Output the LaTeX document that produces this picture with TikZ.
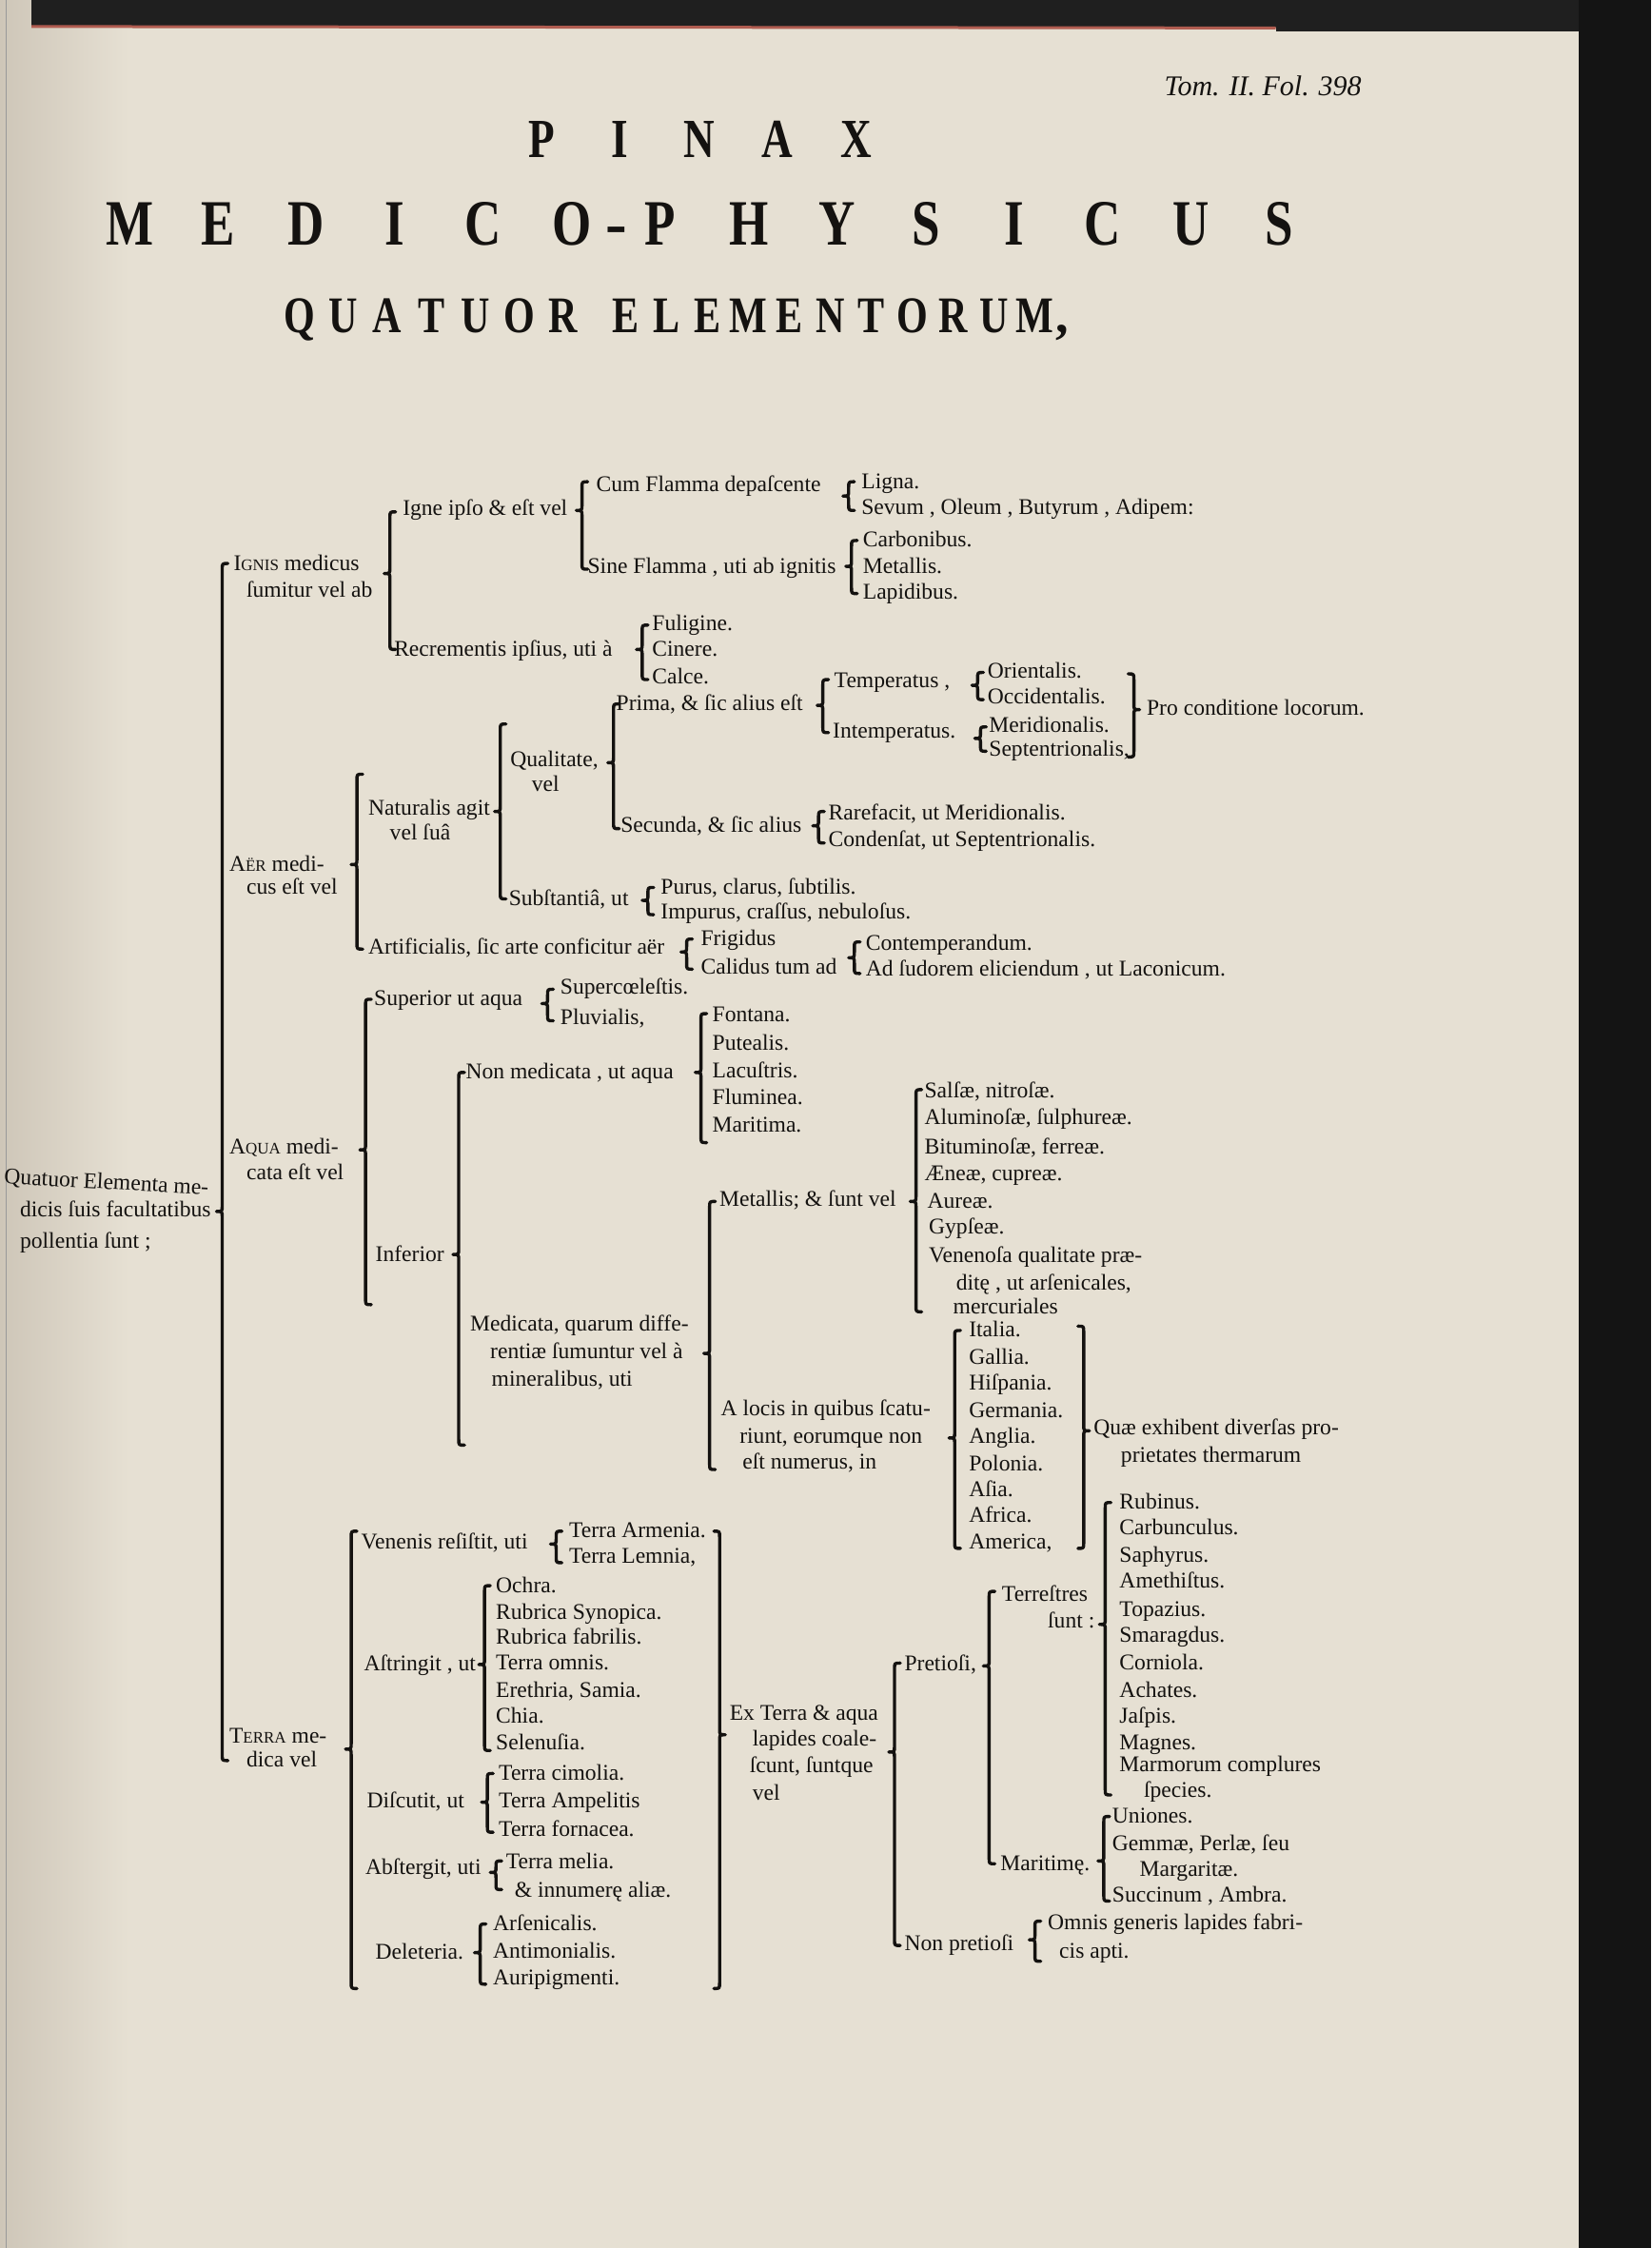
\documentclass[tikz,border=0pt]{standalone}
\usepackage{fontspec}
\setmainfont{Liberation Serif}
\definecolor{paper}{RGB}{230,224,211}
\definecolor{paperdark}{RGB}{206,198,184}
\definecolor{ink}{RGB}{20,18,16}
\definecolor{edgered}{RGB}{176,92,80}
\newcommand\mysc{\fontsize{8.5}{10}\selectfont}
\newcommand\tx[4]{\node[tx] (#1) at (#2,#3) {#4};}
\newcommand\lbrc[4]{\draw[br] ({#1+4},#2) .. controls (#1,#2) .. (#1,{#2+4}) -- (#1,{#3-4}) .. controls (#1,#3) .. ({#1-4},#3) .. controls (#1,#3) .. (#1,{#3+4}) -- (#1,{#4-4}) .. controls (#1,#4) .. ({#1+4},#4);}
\newcommand\rbrc[4]{\draw[br] ({#1-4},#2) .. controls (#1,#2) .. (#1,{#2+4}) -- (#1,{#3-4}) .. controls (#1,#3) .. ({#1+4},#3) .. controls (#1,#3) .. (#1,{#3+4}) -- (#1,{#4-4}) .. controls (#1,#4) .. ({#1-4},#4);}
\newcommand\ttl[2]{\makebox[#1]{\scalebox{0.78}[1]{#2}}}
\begin{document}
\begin{tikzpicture}[x=0.7535pt,y=-0.7535pt,
  tx/.style={anchor=west,inner sep=0pt,outer sep=0pt,text height=8.5pt,text depth=3pt,font=\fontsize{11.8}{14}\selectfont,text=ink},
  ttx/.style={anchor=base,inner sep=0pt,outer sep=0pt,text=ink},
  br/.style={draw=ink,line width=1.7pt,line cap=round,line join=round}]
\useasboundingbox (0,0) rectangle (1152,1568);
% page
\fill[paper] (0,0) rectangle (1152,1568);
\shade[left color=paperdark,right color=paper] (0,0) rectangle (90,1568);
\fill[black!88] (22,0) rectangle (1152,19);
\fill[black!88] (890,0) rectangle (1152,22);
\draw[edgered,line width=1.5pt] (22,18.5) -- (890,19.5);
\fill[black!92] (1101,0) rectangle (1152,1568);
\draw[black!40,line width=0.5pt] (4,0) -- (4,1568);
% header
\node[anchor=west,inner sep=0pt,text=ink,font=\fontsize{15}{15}\selectfont\itshape] (folio) at (812,60) {Tom. II. Fol. 398};
\node[ttx,font=\bfseries\fontsize{29}{29}\selectfont] (pinax) at (487.5,110) {\ttl{41.4pt}{P}\ttl{41.4pt}{I}\ttl{41.4pt}{N}\ttl{41.4pt}{A}\ttl{41.4pt}{X}};
\node[ttx,font=\bfseries\fontsize{34}{34}\selectfont] (medico) at (491.5,171) {\ttl{46.5pt}{M}\ttl{46.5pt}{E}\ttl{46.5pt}{D}\ttl{46.5pt}{I}\ttl{46.5pt}{C}\ttl{46.5pt}{O}\makebox[0pt]{-}\ttl{46.5pt}{P}\ttl{46.5pt}{H}\ttl{46.5pt}{Y}\ttl{46.5pt}{S}\ttl{46.5pt}{I}\ttl{46.5pt}{C}\ttl{46.5pt}{U}\ttl{46.5pt}{S}};
\node[ttx,anchor=base west,font=\bfseries\fontsize{27}{27}\selectfont] (quatuor) at (193.6,232) {\ttl{23.1pt}{Q}\ttl{23.1pt}{U}\ttl{23.1pt}{A}\ttl{23.1pt}{T}\ttl{23.1pt}{U}\ttl{23.1pt}{O}\ttl{23.1pt}{R}\hspace{10.7pt}\ttl{21.5pt}{E}\ttl{21.5pt}{L}\ttl{21.5pt}{E}\ttl{21.5pt}{M}\ttl{21.5pt}{E}\ttl{21.5pt}{N}\ttl{21.5pt}{T}\ttl{21.5pt}{O}\ttl{21.5pt}{R}\ttl{21.5pt}{U}\ttl{21.5pt}{M}\makebox[0pt][l]{,}};
% ---------- root
\node[tx,rotate=-3] (r1) at (3,822) {Quatuor Elementa me-};
\tx{r2}{14}{845}{dicis ſuis facultatibus}
\tx{r3}{14}{867}{pollentia ſunt ;}
\lbrc{155}{393}{845}{1228}
% ---------- IGNIS
\tx{ig1}{163}{394}{I{\mysc GNIS} medicus}
\tx{ig2}{172}{413}{ſumitur vel ab}
\lbrc{272}{357}{400}{453}
\tx{igne}{281}{356}{Igne ipſo \& eſt vel}
\lbrc{406}{336}{356}{397}
\tx{cum}{416}{339}{Cum Flamma depaſcente}
\lbrc{592}{336}{346}{356}
\tx{ligna}{601}{337}{Ligna.}
\tx{sevum}{601}{355}{Sevum , Oleum , Butyrum , Adipem:}
\tx{sine}{410}{396}{Sine Flamma , uti ab ignitis}
\lbrc{594}{377}{395}{414}
\tx{carb}{602}{378}{Carbonibus.}
\tx{metal}{602}{396}{Metallis.}
\tx{lapid}{602}{414}{Lapidibus.}
\tx{recr}{275}{454}{Recrementis ipſius, uti à}
\lbrc{448}{436}{453}{474}
\tx{fulig}{455}{436}{Fuligine.}
\tx{ciner}{455}{454}{Cinere.}
\tx{calce}{455}{473}{Calce.}
% ---------- AER
\tx{ae1}{160}{604}{A{\mysc ËR} medi-}
\tx{ae2}{172}{620}{cus eſt vel}
\lbrc{249}{540}{603}{662}
\tx{nat1}{257}{565}{Naturalis agit}
\tx{nat2}{272}{582}{vel ſuâ}
\lbrc{349}{505}{566}{627}
\tx{qual1}{356}{531}{Qualitate,}
\tx{qual2}{371}{548}{vel}
\lbrc{428}{491}{532}{578}
\tx{prima}{430}{492}{Prima, \& ſic alius eſt}
\lbrc{574}{474}{492}{511}
\tx{temp}{582}{476}{Temperatus ,}
\lbrc{682}{469}{478}{488}
\tx{orie}{689}{469}{Orientalis.}
\tx{occi}{689}{487}{Occidentalis.}
\tx{intemp}{581}{511}{Intemperatus.}
\lbrc{684}{507}{515}{524}
\tx{meri}{690}{507}{Meridionalis.}
\tx{sept}{690}{524}{Septentrionalis,}
\rbrc{791}{470}{495}{528}
\tx{pro}{800}{495}{Pro conditione locorum.}
\tx{secu}{433}{577}{Secunda, \& ſic alius}
\lbrc{571}{566}{576}{588}
\tx{rare}{578}{568}{Rarefacit, ut Meridionalis.}
\tx{cond}{578}{587}{Condenſat, ut Septentrionalis.}
\tx{subst}{355}{628}{Subſtantiâ, ut}
\lbrc{452}{619}{628}{638}
\tx{purus}{461}{620}{Purus, clarus, ſubtilis.}
\tx{impur}{461}{637}{Impurus, craſſus, nebuloſus.}
\tx{artif}{257}{662}{Artificialis, ſic arte conficitur aër}
\lbrc{479}{655}{664}{676}
\tx{frig}{489}{656}{Frigidus}
\tx{calid}{489}{676}{Calidus tum ad}
\lbrc{596}{657}{668}{679}
\tx{contemp}{604}{659}{Contemperandum.}
\tx{sudor}{604}{677}{Ad ſudorem eliciendum , ut Laconicum.}
% ---------- AQUA
\tx{aq1}{160}{801}{A{\mysc QUA} medi-}
\tx{aq2}{172}{819}{cata eſt vel}
\lbrc{255}{697}{802}{910}
\tx{super}{261}{698}{Superior ut aqua}
\lbrc{382}{690}{700}{712}
\tx{supc}{391}{690}{Supercœleſtis.}
\tx{pluv}{391}{711}{Pluvialis,}
\tx{infer}{262}{876}{Inferior}
\lbrc{320}{748}{875}{1008}
\tx{nonmed}{325}{749}{Non medicata , ut aqua}
\lbrc{489}{707}{748}{797}
\tx{font}{497}{709}{Fontana.}
\tx{putea}{497}{729}{Putealis.}
\tx{lacus}{497}{748}{Lacuſtris.}
\tx{flum}{497}{767}{Fluminea.}
\tx{marit}{497}{786}{Maritima.}
\tx{med1}{328}{925}{Medicata, quarum diffe-}
\tx{med2}{342}{944}{rentiæ ſumuntur vel à}
\tx{med3}{343}{963}{mineralibus, uti}
\lbrc{495}{838}{944}{1025}
\tx{metsunt}{502}{838}{Metallis; \& ſunt vel}
\lbrc{639}{760}{838}{915}
\tx{salsae}{645}{762}{Salſæ, nitroſæ.}
\tx{alum}{645}{781}{Aluminoſæ, ſulphureæ.}
\tx{bitum}{645}{801}{Bituminoſæ, ferreæ.}
\tx{aene}{645}{820}{Æneæ, cupreæ.}
\tx{aure}{647}{839}{Aureæ.}
\tx{gyps}{648}{857}{Gypſeæ.}
\tx{ven1}{648}{877}{Venenoſa qualitate præ-}
\tx{ven2}{667}{896}{ditę , ut arſenicales,}
\tx{ven3}{665}{913}{mercuriales}
\tx{loc1}{503}{984}{A locis in quibus ſcatu-}
\tx{loc2}{516}{1003}{riunt, eorumque non}
\tx{loc3}{518}{1021}{eſt numerus, in}
\lbrc{666}{928}{1003}{1080}
\tx{ital}{676}{929}{Italia.}
\tx{gall}{676}{948}{Gallia.}
\tx{hisp}{676}{966}{Hiſpania.}
\tx{germ}{676}{985}{Germania.}
\tx{angl}{676}{1003}{Anglia.}
\tx{polo}{676}{1022}{Polonia.}
\tx{asia}{676}{1040}{Aſia.}
\tx{afri}{676}{1058}{Africa.}
\tx{amer}{676}{1077}{America,}
\rbrc{756}{925}{998}{1080}
\tx{quae1}{763}{997}{Quæ exhibent diverſas pro-}
\tx{quae2}{782}{1016}{prietates thermarum}
% ---------- TERRA
\tx{te1}{160}{1212}{T{\mysc ERRA} me-}
\tx{te2}{172}{1229}{dica vel}
\lbrc{245}{1068}{1220}{1387}
\tx{venen}{252}{1077}{Venenis reſiſtit, uti}
\lbrc{388}{1068}{1077}{1090}
\tx{armen}{397}{1069}{Terra Armenia.}
\tx{lemn}{397}{1087}{Terra Lemnia,}
\tx{astr}{254}{1162}{Aſtringit , ut}
\lbrc{338}{1106}{1161}{1221}
\tx{ochra}{346}{1107}{Ochra.}
\tx{rsyn}{346}{1126}{Rubrica Synopica.}
\tx{rfab}{346}{1143}{Rubrica fabrilis.}
\tx{tomn}{346}{1161}{Terra omnis.}
\tx{ereth}{346}{1180}{Erethria, Samia.}
\tx{chia}{346}{1198}{Chia.}
\tx{selen}{346}{1217}{Selenuſia.}
\tx{disc}{256}{1257}{Diſcutit, ut}
\lbrc{340}{1237}{1257}{1278}
\tx{cimol}{348}{1238}{Terra cimolia.}
\tx{ampel}{348}{1257}{Terra Ampelitis}
\tx{forn}{348}{1277}{Terra fornacea.}
\tx{abst}{255}{1304}{Abſtergit, uti}
\lbrc{346}{1298}{1306}{1318}
\tx{melia}{353}{1300}{Terra melia.}
\tx{innum}{359}{1320}{\& innumerę aliæ.}
\tx{delet}{262}{1363}{Deleteria.}
\lbrc{335}{1342}{1362}{1384}
\tx{arsen}{344}{1343}{Arſenicalis.}
\tx{antim}{344}{1362}{Antimonialis.}
\tx{aurip}{344}{1381}{Auripigmenti.}
\rbrc{502}{1068}{1210}{1387}
\tx{ex1}{509}{1196}{Ex Terra \& aqua}
\tx{ex2}{525}{1214}{lapides coale-}
\tx{ex3}{523}{1233}{ſcunt, ſuntque}
\tx{ex4}{525}{1252}{vel}
\lbrc{624}{1160}{1222}{1357}
\tx{pret}{631}{1162}{Pretioſi,}
\lbrc{690}{1110}{1162}{1300}
\tx{terr1}{699}{1113}{Terreſtres}
\tx{terr2}{731}{1132}{ſunt :}
\lbrc{771}{1048}{1133}{1252}
\tx{rubin}{781}{1049}{Rubinus.}
\tx{carbu}{781}{1067}{Carbunculus.}
\tx{saph}{781}{1086}{Saphyrus.}
\tx{ameth}{781}{1104}{Amethiſtus.}
\tx{topaz}{781}{1124}{Topazius.}
\tx{smar}{781}{1142}{Smaragdus.}
\tx{corn}{781}{1161}{Corniola.}
\tx{achat}{781}{1180}{Achates.}
\tx{jasp}{781}{1198}{Jaſpis.}
\tx{magn}{781}{1217}{Magnes.}
\tx{marm}{781}{1232}{Marmorum complures}
\tx{spec}{798}{1250}{ſpecies.}
\tx{mari}{698}{1301}{Maritimę.}
\lbrc{770}{1267}{1298}{1326}
\tx{union}{776}{1268}{Uniones.}
\tx{gemm}{776}{1287}{Gemmæ, Perlæ, ſeu}
\tx{marg}{795}{1305}{Margaritæ.}
\tx{succ}{776}{1323}{Succinum , Ambra.}
\tx{nonp}{631}{1357}{Non pretioſi}
\lbrc{722}{1340}{1353}{1368}
\tx{omn1}{731}{1342}{Omnis generis lapides fabri-}
\tx{omn2}{739}{1362}{cis apti.}
\end{tikzpicture}
\end{document}
